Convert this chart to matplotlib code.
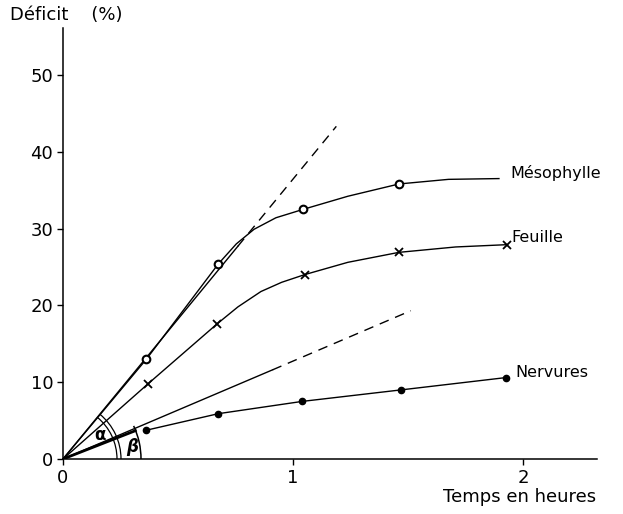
import matplotlib
matplotlib.use("Agg")
import matplotlib.pyplot as plt
import matplotlib.transforms as mtransforms
from matplotlib.patches import Arc
import numpy as np

# Mesured points (time in hours, deficit in %)
meso_t = [0.3625, 0.675, 1.044, 1.46]
meso_d = [13.0, 25.4, 32.5, 35.8]
feuille_t = [0.37, 0.67, 1.05, 1.46, 1.93]
feuille_d = [9.8, 17.6, 24.0, 26.9, 27.9]
nerv_t = [0.3625, 0.675, 1.04, 1.47, 1.925]
nerv_d = [3.75, 5.9, 7.5, 9.0, 10.6]

# hand-drawn curves
meso_curve_t = [0, 0.3625, 0.675, 0.753, 0.83, 0.925, 1.044, 1.2375, 1.46, 1.675, 1.894]
meso_curve_d = [0, 13.0, 25.4, 28.0, 29.9, 31.4, 32.5, 34.2, 35.8, 36.4, 36.5]
feuille_curve_t = [0, 0.37, 0.67, 0.76, 0.86, 0.95, 1.05, 1.2375, 1.46, 1.706, 1.93]
feuille_curve_d = [0, 9.8, 17.6, 19.8, 21.8, 23.0, 24.0, 25.6, 26.9, 27.6, 27.9]
# heavy start of the Nervures curve, then the line through the dots
nerv_start_t = [0, 0.32]
nerv_start_d = [0, 3.75]

# initial tangents (origin, end of solid part, end of dashed part)
tan_a_t = [0, 0.76, 1.1875]
tan_a_d = [0, 27.7, 43.3]
tan_b_t = [0, 0.91, 1.511]
tan_b_d = [0, 11.6, 19.3]

x_ticks = [0, 1, 2]
y_ticks = [0, 10, 20, 30, 40, 50]
series_labels = ["Mésophylle", "Feuille", "Nervures"]

plt.rcParams["font.family"] = ["DejaVu Sans"]
W, H = 623, 514
fig = plt.figure(figsize=(W / 100, H / 100), dpi=100)
ax = fig.add_axes([63 / W, 1 - 459 / H, (597 - 63) / W, (459 - 28) / H])
ax.set_xlim(0, 2.32)
ax.set_ylim(0, 56.1)
for s in ("top", "right"):
    ax.spines[s].set_visible(False)
for s in ("left", "bottom"):
    ax.spines[s].set_linewidth(1.1)
ax.set_xticks(x_ticks)
ax.set_xticklabels([str(v) for v in x_ticks])
ax.set_yticks(y_ticks)
ax.set_yticklabels([str(v) for v in y_ticks])
ax.tick_params(direction="out", length=4, width=1, labelsize=13, pad=3)

lw = 1.0
dash = (0, (7, 5))
ax.plot(meso_curve_t, meso_curve_d, color="k", lw=lw, clip_on=False)
ax.plot(feuille_curve_t, feuille_curve_d, color="k", lw=lw, clip_on=False)
ax.plot(nerv_start_t, nerv_start_d, color="k", lw=2.0, solid_capstyle="butt")
ax.plot(nerv_t, nerv_d, color="k", lw=lw, clip_on=False)

ax.plot(tan_a_t[:2], tan_a_d[:2], color="k", lw=lw)
ax.plot(tan_a_t[1:], tan_a_d[1:], color="k", lw=lw, linestyle=dash)
ax.plot(tan_b_t[:2], tan_b_d[:2], color="k", lw=lw)
ax.plot(tan_b_t[1:], tan_b_d[1:], color="k", lw=lw, linestyle=dash)

ax.plot(meso_t, meso_d, "o", ms=5.5, mfc="white", mec="k", mew=1.5, clip_on=False)
ax.plot(feuille_t, feuille_d, "x", ms=6, mec="k", mew=1.3, clip_on=False)
ax.plot(nerv_t, nerv_d, "o", ms=4.5, mfc="k", mec="k", clip_on=False)

label_pos = [(1.943, 37.2), (1.948, 28.8), (1.965, 11.3)]
for name, (tx, ty) in zip(series_labels, label_pos):
    ax.text(tx, ty, name, fontsize=11.5, ha="left", va="center")

# angle marks alpha and beta, drawn in pixels around the origin
def disp_angle(t, d):
    p0 = ax.transData.transform((0, 0))
    p1 = ax.transData.transform((t, d))
    return np.degrees(np.arctan2(p1[1] - p0[1], p1[0] - p0[0]))

arc_tr = mtransforms.Affine2D() + mtransforms.ScaledTranslation(0, 0, ax.transData)
ang_a = disp_angle(tan_a_t[-1], tan_a_d[-1])
ang_b = disp_angle(tan_b_t[-1], tan_b_d[-1])
for r in (54, 58):
    ax.add_patch(Arc((0, 0), 2 * r, 2 * r, theta1=0, theta2=ang_a,
                     transform=arc_tr, color="k", lw=0.9, clip_on=False))
ax.add_patch(Arc((0, 0), 2 * 78, 2 * 78, theta1=0, theta2=ang_b + 2,
                 transform=arc_tr, color="k", lw=1.1, clip_on=False))
ax.text(0.161, 3.1, "α", fontsize=12, ha="center", va="center", fontweight="bold")
ax.text(0.30, 1.6, "β", fontsize=12, ha="center", va="center", style="italic",
        fontweight="bold")

fig.text(10 / W, 1 - 15 / H, "Déficit    (%)", fontsize=13, ha="left", va="center")
fig.text(520 / W, 1 - 497 / H, "Temps en heures", fontsize=13, ha="center",
         va="center")

fig.savefig("out.png", dpi=100, facecolor="white")
